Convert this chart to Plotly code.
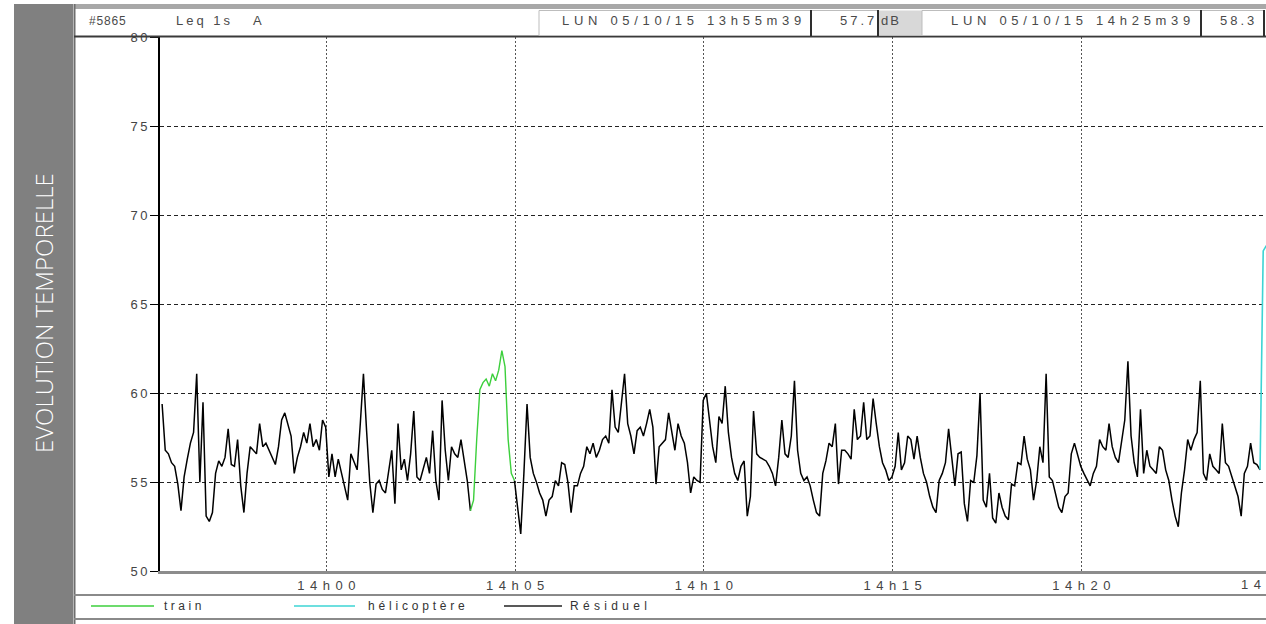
import pandas as pd
import plotly.graph_objects as go

# ---------------------------------------------------------------------------
# Data : Leq 1s (A) levels, sampled every 5 s from the start of the record
# ---------------------------------------------------------------------------
START = "2015-10-05 13:55:39"
STEP_S = 5

leq_db = [
    59.4, 56.8, 56.6, 56.1, 55.9, 54.9, 53.4, 55.3, 56.3, 57.2,
    57.8, 61.1, 55.0, 59.5, 53.1, 52.8, 53.3, 55.5, 56.2, 55.9,
    56.4, 58.0, 56.0, 55.9, 57.4, 54.8, 53.3, 55.5, 57.0, 56.8,
    56.6, 58.3, 57.0, 57.2, 56.8, 56.3, 56.0, 57.0, 58.5, 58.9,
    58.3, 57.6, 55.5, 56.4, 57.0, 57.8, 57.2, 58.3, 57.0, 57.4,
    56.8, 58.5, 58.1, 55.3, 56.6, 55.3, 56.3, 55.5, 54.8, 54.0,
    56.6, 56.2, 55.7, 58.3, 61.1, 57.9, 55.0, 53.3, 54.9, 55.1,
    54.6, 54.4, 55.5, 56.8, 53.8, 58.3, 55.7, 56.3, 55.1, 56.6,
    59.0, 55.3, 55.1, 55.7, 56.4, 55.5, 57.9, 55.1, 54.0, 59.6,
    56.8, 55.1, 57.0, 56.6, 56.4, 57.4, 56.1, 55.1, 53.4, 54.0,
    57.4, 60.2, 60.6, 60.8, 60.4, 61.1, 60.7, 61.3, 62.4, 61.5,
    57.4, 55.5, 55.1, 53.6, 52.1, 55.5, 59.4, 56.4, 55.5, 55.0,
    54.4, 54.0, 53.1, 54.0, 54.2, 55.1, 54.8, 56.1, 56.0, 55.0,
    53.3, 54.8, 54.8, 55.5, 55.9, 57.0, 56.6, 57.2, 56.4, 56.8,
    57.4, 57.6, 57.2, 60.2, 58.1, 57.8, 59.3, 61.1, 58.3, 57.6,
    56.6, 57.9, 58.1, 57.6, 58.3, 59.1, 58.1, 54.9, 57.0, 57.2,
    57.4, 58.9, 57.8, 56.8, 58.3, 57.6, 57.2, 56.1, 54.4, 55.3,
    55.1, 55.0, 59.6, 60.0, 58.5, 57.0, 56.1, 58.7, 58.3, 60.4,
    57.8, 56.4, 55.5, 55.1, 55.9, 56.2, 53.1, 54.2, 59.0, 56.6,
    56.4, 56.3, 56.2, 55.9, 55.5, 54.8, 56.4, 58.5, 56.6, 56.4,
    57.6, 60.7, 56.8, 55.5, 55.1, 55.3, 54.8, 54.0, 53.3, 53.1,
    55.5, 56.2, 57.2, 57.0, 58.3, 54.9, 56.8, 56.8, 56.6, 56.3,
    59.1, 57.4, 57.6, 59.5, 57.4, 57.6, 59.7, 58.3, 57.0, 56.1,
    55.7, 55.1, 55.3, 55.9, 57.8, 55.7, 56.1, 57.6, 57.4, 56.3,
    57.6, 56.4, 55.5, 55.0, 54.2, 53.6, 53.3, 55.1, 55.5, 56.1,
    58.0, 56.4, 54.8, 56.6, 56.7, 53.8, 52.8, 55.1, 55.0, 56.5,
    60.0, 54.0, 53.6, 55.5, 53.0, 52.7, 54.4, 53.6, 53.1, 52.9,
    54.9, 54.8, 56.1, 56.0, 57.6, 56.3, 55.7, 54.0, 55.1, 57.0,
    56.1, 61.1, 55.3, 55.1, 54.4, 53.6, 53.3, 54.2, 54.4, 56.6,
    57.2, 56.6, 55.9, 55.5, 55.1, 54.8, 55.5, 55.9, 57.4, 57.0,
    56.8, 58.3, 57.0, 56.4, 56.1, 57.4, 58.5, 61.8, 57.6, 56.1,
    55.3, 59.1, 55.5, 56.8, 55.9, 55.7, 55.5, 57.0, 56.8, 55.7,
    55.1, 54.0, 53.1, 52.5, 54.4, 55.7, 57.4, 56.8, 57.4, 57.8,
    60.7, 55.5, 55.1, 56.6, 55.9, 55.7, 55.5, 58.3, 56.1, 55.9,
    55.3, 54.8, 54.2, 53.1, 55.5, 55.9, 57.2, 56.1, 56.0, 55.7,
]

# coded source events (seconds from the start of the record)
TRAIN_FROM_S, TRAIN_TO_S = 490, 560
heli_offsets_s = [1745, 1750, 1755]
heli_db = [55.7, 68.0, 68.3]

y_tick_vals = [50, 55, 60, 65, 70, 75, 80]
x_tick_times = ["2015-10-05 14:00:00", "2015-10-05 14:05:00", "2015-10-05 14:10:00",
                "2015-10-05 14:15:00", "2015-10-05 14:20:00", "2015-10-05 14:25:00"]
x_tick_text = ["14h00", "14h05", "14h10", "14h15", "14h20", "14h25"]

series_names = ["train", "hélicoptère", "Résiduel"]
series_colors = ["#3ccf3c", "#3cd4d4", "#000000"]

record_id = "#5865"
index_name = "Leq 1s&nbsp;&nbsp;&nbsp;A"
period_start = "LUN 05/10/15 13h55m39"
period_end = "LUN 05/10/15 14h25m39"
level_start = "57.7"
level_end = "58.3"
unit = "dB"
side_title = "EVOLUTION TEMPORELLE"

# ---------------------------------------------------------------------------
W, H = 1266, 624
PLOT_LEFT, PLOT_TOP, PLOT_BOTTOM = 160, 37.3, 571.3
PX_PER_S = 0.6292


def px(x):
    return x / W


def py(y):
    return 1 - y / H


t0 = pd.Timestamp(START)
offsets = [i * STEP_S for i in range(len(leq_db))]
times = [t0 + pd.Timedelta(seconds=o) for o in offsets]

resid_y = [v if (o <= TRAIN_FROM_S or o >= TRAIN_TO_S) else None
           for o, v in zip(offsets, leq_db)]
train_x = [t for t, o in zip(times, offsets) if TRAIN_FROM_S <= o <= TRAIN_TO_S]
train_y = [v for v, o in zip(leq_db, offsets) if TRAIN_FROM_S <= o <= TRAIN_TO_S]
heli_x = [t0 + pd.Timedelta(seconds=s) for s in heli_offsets_s]

x_lo = t0 - pd.Timedelta(seconds=(162.1 - PLOT_LEFT) / PX_PER_S)
x_hi = x_lo + pd.Timedelta(seconds=(W - PLOT_LEFT) / PX_PER_S)

fig = go.Figure()
fig.add_trace(go.Scatter(x=times, y=resid_y, mode="lines", name=series_names[2],
                         line=dict(color=series_colors[2], width=1.5),
                         connectgaps=False, showlegend=False))
fig.add_trace(go.Scatter(x=train_x, y=train_y, mode="lines", name=series_names[0],
                         line=dict(color=series_colors[0], width=1.4), showlegend=False))
fig.add_trace(go.Scatter(x=heli_x, y=heli_db, mode="lines", name=series_names[1],
                         line=dict(color=series_colors[1], width=1.6), showlegend=False))

FONT = "Liberation Sans, Arial, sans-serif"
tick_font = dict(family=FONT, size=13, color="#444444")


def spaced(text, sp):
    # letter spacing between glyphs, none after the last one
    if len(text) < 2:
        return text
    return f"<span style='letter-spacing:{sp}px'>{text[:-1]}</span>{text[-1]}"


dom_x0 = px(PLOT_LEFT)
fig.update_layout(
    width=W, height=H,
    margin=dict(l=0, r=0, t=0, b=0, pad=0, autoexpand=False),
    paper_bgcolor="white", plot_bgcolor="white",
    showlegend=False,
    xaxis=dict(
        type="date", domain=[dom_x0, 1.0],
        range=[x_lo.isoformat(), x_hi.isoformat()],
        tickvals=x_tick_times, ticktext=[spaced(t, 5.5) for t in x_tick_text],
        showgrid=True, gridcolor="#555555", gridwidth=1, griddash="2px,2px",
        showline=True, linecolor="#8c8c8c", linewidth=3,
        ticks="", ticklabelstandoff=0, tickfont=tick_font,
        zeroline=False, fixedrange=True, automargin=False,
    ),
    yaxis=dict(
        domain=[py(PLOT_BOTTOM), py(PLOT_TOP)],
        range=[50, 80],
        tickvals=y_tick_vals, ticktext=[spaced(str(v), 2.5) for v in y_tick_vals],
        showgrid=True, gridcolor="#222222", gridwidth=1, griddash="4px,3px",
        showline=True, linecolor="#000000", linewidth=2,
        ticks="outside", ticklen=8, tickcolor="#000000", tickwidth=1,
        tickfont=dict(family=FONT, size=13, color="#444444"),
        zeroline=False, fixedrange=True, automargin=False,
    ),
)

shapes = []


def rect(x0, y0, x1, y1, fill=None, line=None, lw=1):
    shapes.append(dict(type="rect", xref="paper", yref="paper",
                       x0=px(x0), x1=px(x1), y0=py(y1), y1=py(y0),
                       fillcolor=fill or "rgba(0,0,0,0)",
                       line=dict(color=line or "rgba(0,0,0,0)", width=lw if line else 0),
                       layer="above"))


def hline(y, x0, x1, color, w):
    shapes.append(dict(type="line", xref="paper", yref="paper",
                       x0=px(x0), x1=px(x1), y0=py(y), y1=py(y),
                       line=dict(color=color, width=w), layer="above"))


def vline(x, y0, y1, color, w):
    shapes.append(dict(type="line", xref="paper", yref="paper",
                       x0=px(x), x1=px(x), y0=py(y0), y1=py(y1),
                       line=dict(color=color, width=w), layer="above"))


# side band with the section title
rect(14, 4, 73, H + 2, fill="#808080")
# frame of the chart window
rect(74, 4, W + 10, 9, fill="#a8a8a8")
vline(74.5, 4, H, "#6e6e6e", 2)
hline(36.5, 74, W + 10, "#3a3a3a", 2)
# header boxes
rect(539, 10.5, 811, 35.5, line="#bdbdbd")
rect(811, 10.5, 878, 35.5, line="#bdbdbd")
rect(878, 10.5, 922, 35.5, fill="#d8d8d8")
rect(922, 10.5, 1201, 35.5, line="#bdbdbd")
rect(1201, 10.5, 1264, 35.5, line="#bdbdbd")
for xb in (811, 878, 1201, 1264):
    vline(xb, 10, 36, "#2e2e2e", 2)
# separators around the legend row
hline(595, 74, W + 10, "#8a8a8a", 2)
hline(619, 74, W + 10, "#8a8a8a", 2)
# legend samples
legend_x = [(91, 154), (294, 355), (504, 562)]
legend_colors = [series_colors[0], series_colors[1], "#222222"]
for (a, b), c in zip(legend_x, legend_colors):
    hline(606, a, b, c, 1.5)

annotations = []


def label(text, x, y, anchor="left", size=12, color="#4a4a4a", family=FONT):
    annotations.append(dict(text=text, xref="paper", yref="paper", x=px(x), y=py(y),
                            xanchor=anchor, yanchor="middle", showarrow=False,
                            font=dict(family=family, size=size, color=color)))


annotations.append(dict(text=side_title, xref="paper", yref="paper",
                        x=px(43.5), y=py(313.5), textangle=-90,
                        xanchor="center", yanchor="middle", showarrow=False,
                        font=dict(family="Open Sans, sans-serif", size=24,
                                  color="white", weight=300)))

label(spaced(record_id, 0.8), 87, 21)
label(spaced(index_name, 3), 174, 21, size=13)
label(spaced(period_start, 4.7), 560, 21, size=13)
label(spaced(level_start, 3), 876, 21, anchor="right", size=13)
label(spaced(unit, 2), 879, 21, size=13)
label(spaced(period_end, 4.7), 949, 21, size=13)
label(spaced(level_end, 3), 1218, 21, size=13)

legend_text_x = [162, 366, 568]
legend_spacing = [3.5, 3.8, 4.3]
for name, xt, sp in zip(series_names, legend_text_x, legend_spacing):
    label(spaced(name, sp), xt, 606, size=12, color="#333333")

# last time label, sitting past the right edge of the window
frac = (pd.Timestamp(x_tick_times[-1]) - x_lo) / (x_hi - x_lo)
annotations.append(dict(text=spaced(x_tick_text[-1], 5.5), xref="paper", yref="paper",
                        x=dom_x0 + frac * (1 - dom_x0), y=py(584),
                        xanchor="center", yanchor="middle", showarrow=False,
                        font=tick_font))

fig.update_layout(shapes=shapes, annotations=annotations)
fig.write_html("out.html")
